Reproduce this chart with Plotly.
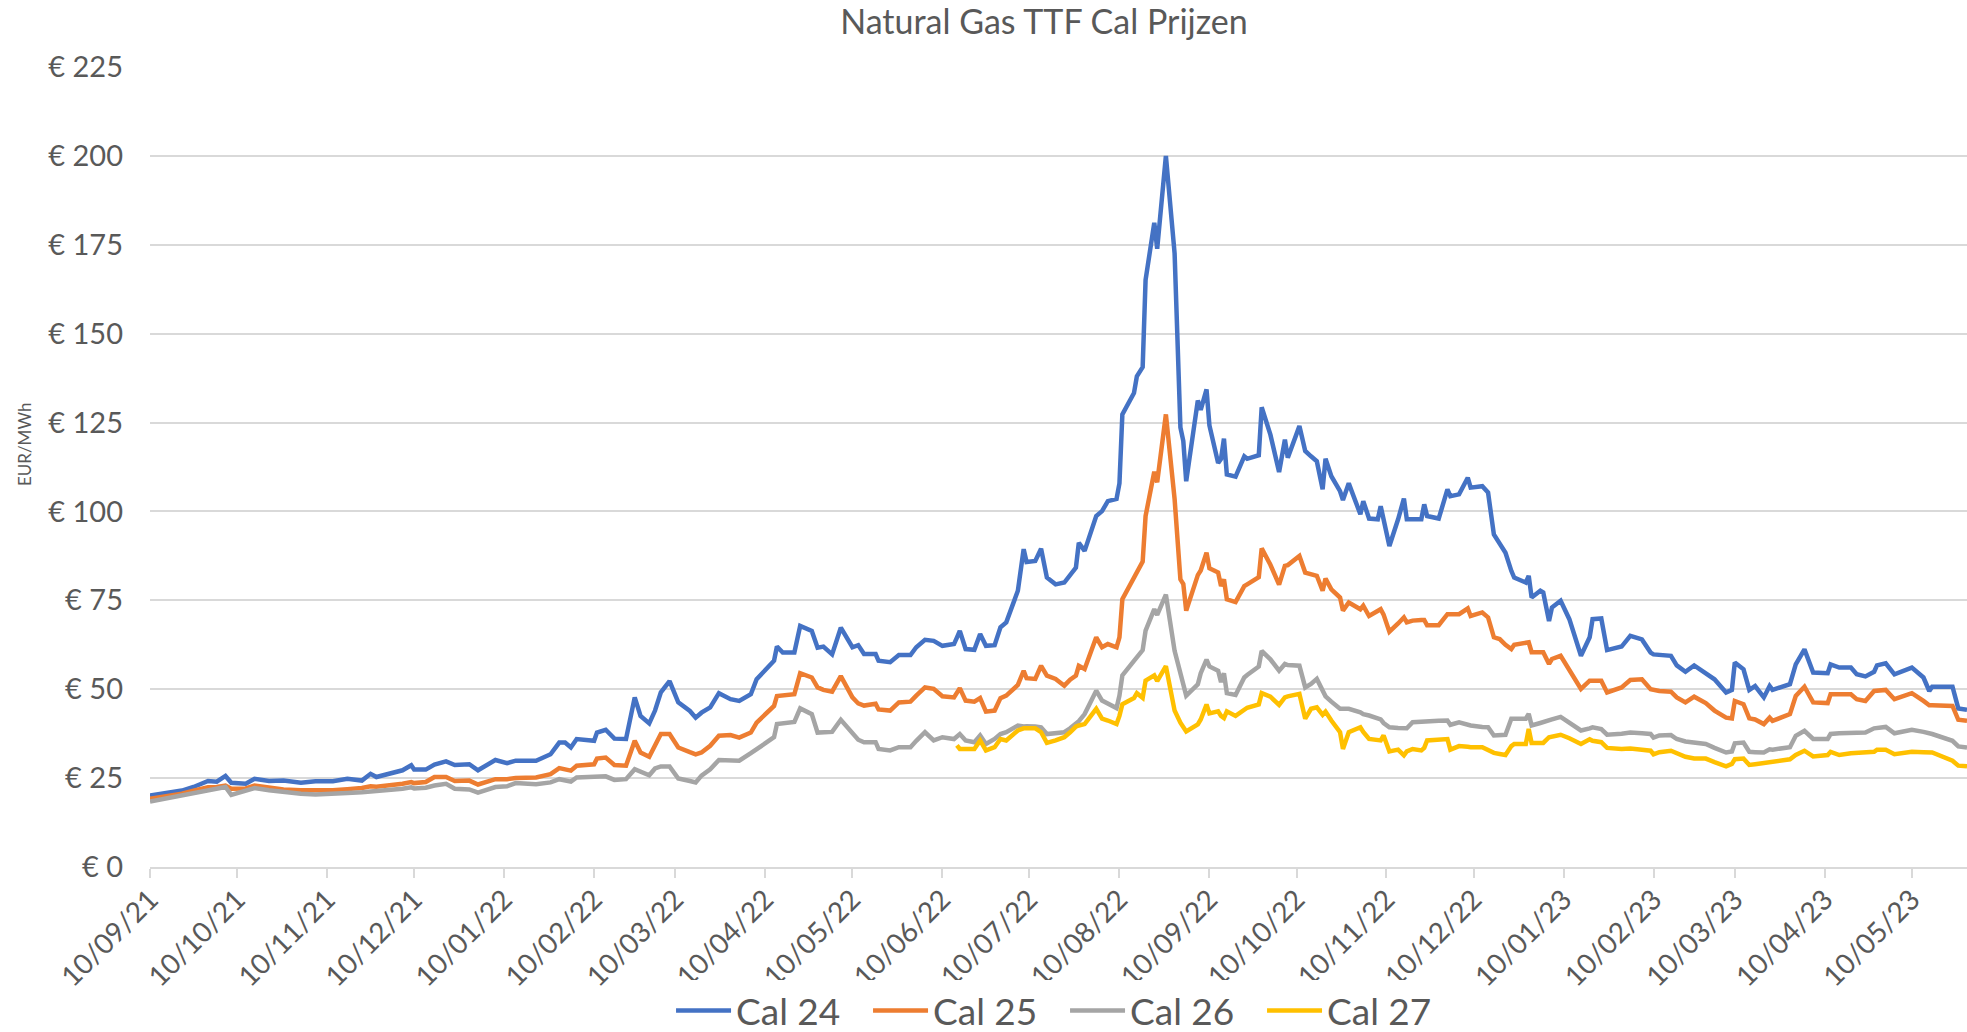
import plotly.graph_objects as go

dates = [
    "2021-09-10", "2021-09-16", "2021-09-21", "2021-09-25", "2021-09-30",
    "2021-10-03", "2021-10-06", "2021-10-08", "2021-10-13", "2021-10-16", "2021-10-21", "2021-10-26",
    "2021-11-01", "2021-11-06", "2021-11-12", "2021-11-17", "2021-11-22", "2021-11-25", "2021-11-27",
    "2021-12-06", "2021-12-09", "2021-12-10", "2021-12-14", "2021-12-17", "2021-12-21", "2021-12-24", "2021-12-29",
    "2022-01-01", "2022-01-07", "2022-01-11", "2022-01-14", "2022-01-21", "2022-01-26", "2022-01-29", "2022-01-31",
    "2022-02-02", "2022-02-04", "2022-02-10", "2022-02-11", "2022-02-14", "2022-02-17", "2022-02-21", "2022-02-24", "2022-02-26",
    "2022-03-01", "2022-03-03", "2022-03-05", "2022-03-08", "2022-03-11", "2022-03-15", "2022-03-17", "2022-03-19", "2022-03-22", "2022-03-25", "2022-03-29",
    "2022-04-01", "2022-04-05", "2022-04-07", "2022-04-13", "2022-04-14", "2022-04-16", "2022-04-20", "2022-04-22", "2022-04-26", "2022-04-28", "2022-04-30",
    "2022-05-03", "2022-05-06", "2022-05-10", "2022-05-12", "2022-05-14", "2022-05-18", "2022-05-19", "2022-05-23", "2022-05-26", "2022-05-30",
    "2022-06-01", "2022-06-04", "2022-06-07", "2022-06-10", "2022-06-14", "2022-06-15", "2022-06-16", "2022-06-18", "2022-06-21", "2022-06-23", "2022-06-25", "2022-06-28", "2022-06-30",
    "2022-07-02", "2022-07-06", "2022-07-08", "2022-07-09", "2022-07-12", "2022-07-14", "2022-07-16", "2022-07-19", "2022-07-22", "2022-07-24", "2022-07-26", "2022-07-27", "2022-07-29",
    "2022-08-02", "2022-08-04", "2022-08-06", "2022-08-09", "2022-08-10", "2022-08-11", "2022-08-15", "2022-08-16", "2022-08-18", "2022-08-19", "2022-08-22", "2022-08-23", "2022-08-26", "2022-08-29", "2022-08-31",
    "2022-09-01", "2022-09-02", "2022-09-06", "2022-09-07", "2022-09-09", "2022-09-10", "2022-09-13", "2022-09-14", "2022-09-15", "2022-09-16", "2022-09-19", "2022-09-22", "2022-09-23", "2022-09-27", "2022-09-28",
    "2022-10-01", "2022-10-04", "2022-10-06", "2022-10-07", "2022-10-11", "2022-10-13", "2022-10-15", "2022-10-17", "2022-10-19", "2022-10-20", "2022-10-22", "2022-10-25", "2022-10-26", "2022-10-28",
    "2022-11-01", "2022-11-02", "2022-11-04", "2022-11-07", "2022-11-08", "2022-11-09", "2022-11-11", "2022-11-14", "2022-11-16", "2022-11-17", "2022-11-19", "2022-11-22", "2022-11-23", "2022-11-24", "2022-11-28",
    "2022-12-01", "2022-12-02", "2022-12-05", "2022-12-08", "2022-12-09", "2022-12-13", "2022-12-15", "2022-12-17", "2022-12-19", "2022-12-21", "2022-12-23", "2022-12-24", "2022-12-28", "2022-12-29", "2022-12-30",
    "2023-01-02", "2023-01-03", "2023-01-05", "2023-01-06", "2023-01-09", "2023-01-12", "2023-01-14", "2023-01-16", "2023-01-19", "2023-01-20", "2023-01-23", "2023-01-25", "2023-01-30",
    "2023-02-02", "2023-02-06", "2023-02-09", "2023-02-10", "2023-02-12", "2023-02-16", "2023-02-18", "2023-02-21", "2023-02-24", "2023-02-28",
    "2023-03-03", "2023-03-07", "2023-03-09", "2023-03-10", "2023-03-13", "2023-03-15", "2023-03-17", "2023-03-20", "2023-03-22", "2023-03-23", "2023-03-29", "2023-03-31",
    "2023-04-03", "2023-04-06", "2023-04-11", "2023-04-12", "2023-04-15", "2023-04-19", "2023-04-21", "2023-04-24", "2023-04-27", "2023-04-28",
    "2023-05-01", "2023-05-04", "2023-05-10", "2023-05-14", "2023-05-16", "2023-05-17", "2023-05-24", "2023-05-26", "2023-05-29",
]

cal24 = [
    20.1, 20.8, 21.5, 22.5, 24.2,
    24.0, 25.6, 23.7, 23.4, 24.8, 24.2, 24.3,
    23.7, 24.1, 24.1, 24.8, 24.3, 26.2, 25.3,
    27.2, 28.6, 27.4, 27.4, 28.8, 29.7, 28.7, 28.9,
    27.2, 30.1, 29.2, 29.9, 29.9, 31.7, 35.0, 35.0,
    33.6, 36.0, 35.5, 37.8, 38.6, 36.1, 36.0, 47.7, 42.5,
    40.4, 44.0, 49.1, 52.3, 46.3, 43.9, 42.0, 43.4, 44.9, 48.9, 47.2,
    46.7, 48.6, 52.8, 58.0, 62.0, 60.3, 60.3, 67.8, 66.4, 61.7, 62.0,
    59.8, 67.3, 61.8, 62.4, 59.9, 59.9, 58.0, 57.6, 59.6, 59.6,
    61.8, 63.9, 63.6, 62.2, 62.7, 64.5, 66.4, 61.3, 61.1, 65.5, 62.2, 62.4, 67.4,
    68.8, 77.7, 89.4, 85.8, 86.1, 89.5, 81.4, 79.5, 80.0, 82.3, 84.2, 91.2, 88.9,
    98.7, 100.1, 102.9, 103.5, 107.9, 127.3, 133.3, 138.0, 140.6, 165.1, 181.2, 173.9, 200.0, 172.6, 123.6,
    119.8, 108.5, 131.2, 128.6, 134.3, 124.2, 113.6, 114.8, 120.5, 110.4, 109.8, 115.5, 114.8, 115.8, 129.3,
    121.6, 111.1, 120.2, 115.1, 124.0, 117.0, 115.5, 114.1, 106.2, 114.8, 109.9, 105.7, 103.2, 107.9,
    99.2, 102.9, 98.0, 97.8, 101.5, 97.8, 90.3, 97.8, 103.6, 97.8, 97.8, 97.8, 102.0, 98.7, 98.0,
    106.2, 104.3, 104.8, 109.5, 106.7, 107.1, 105.3, 93.5, 90.8, 88.4, 83.3, 81.4, 80.0, 81.9, 75.8,
    77.7, 77.2, 69.2, 73.0, 74.9, 69.7, 64.6, 59.4, 64.6, 69.7, 69.9, 61.0, 62.0,
    65.0, 64.0, 60.3, 59.8, 59.6, 59.4, 56.7, 54.9, 56.7, 54.5,
    52.8, 49.1, 49.8, 57.5, 55.6, 49.8, 50.9, 47.7, 50.9, 49.8, 51.4, 57.0,
    61.2, 54.7, 54.5, 57.0, 56.1, 56.1, 54.2, 53.6, 54.9, 56.7,
    57.3, 54.2, 56.1, 53.3, 49.5, 50.7, 50.7, 44.6, 44.2,
]

cal25 = [
    19.2, 19.9, 20.6, 21.5, 22.4,
    22.5, 22.9, 22.0, 22.1, 22.9, 22.4, 21.8,
    21.6, 21.5, 21.6, 21.9, 22.2, 22.7, 22.6,
    23.4, 23.9, 23.6, 23.9, 25.3, 25.3, 24.2, 24.3,
    23.2, 24.7, 24.7, 25.0, 25.2, 26.1, 27.8, 27.5,
    27.1, 28.5, 28.9, 30.5, 30.8, 28.7, 28.5, 35.5, 32.2,
    31.0, 34.0, 37.4, 37.4, 33.6, 32.3, 31.7, 32.2, 34.1, 36.9, 37.1,
    36.4, 37.8, 40.6, 45.3, 48.1, 48.3, 48.6, 54.5, 53.3, 50.5, 49.8,
    49.3, 53.7, 47.7, 46.0, 45.4, 45.9, 44.3, 44.0, 46.3, 46.5,
    48.2, 50.5, 50.1, 48.0, 47.7, 49.0, 50.3, 46.8, 46.5, 47.5, 43.7, 44.0, 47.5,
    48.2, 51.2, 55.2, 53.1, 52.9, 56.6, 53.8, 52.9, 51.0, 52.7, 53.8, 56.6, 55.7,
    64.6, 61.8, 62.7, 61.8, 64.6, 75.3, 81.0, 82.8, 85.9, 98.7, 111.2, 108.2, 127.3, 103.5, 80.9,
    79.6, 72.1, 82.1, 83.4, 88.4, 84.0, 82.8, 79.0, 80.9, 75.3, 74.5, 79.0, 79.5, 81.5, 89.6,
    85.0, 79.4, 84.7, 84.9, 87.5, 82.8, 82.3, 81.9, 77.7, 81.1, 78.1, 75.8, 72.1, 74.4,
    72.5, 73.5, 70.6, 72.0, 72.5, 71.0, 66.2, 68.5, 70.2, 68.8, 69.3, 69.5, 69.5, 68.0, 68.0,
    71.1, 71.1, 71.1, 72.7, 70.6, 71.6, 70.2, 64.6, 64.1, 62.5, 61.3, 62.5, 63.2, 63.2, 60.4,
    60.4, 60.4, 57.1, 58.5, 59.4, 55.2, 52.5, 50.1, 52.4, 52.4, 52.4, 49.1, 50.5,
    52.6, 52.8, 50.0, 49.8, 49.5, 49.3, 47.7, 46.3, 47.9, 46.1,
    44.0, 42.0, 41.8, 46.7, 45.8, 41.8, 41.5, 40.2, 42.0, 41.1, 43.0, 48.1,
    50.7, 46.3, 46.1, 48.6, 48.6, 48.6, 47.2, 46.7, 49.5, 49.6,
    49.8, 47.2, 48.9, 46.7, 45.5, 45.5, 45.3, 41.4, 41.1,
]

cal26 = [
    18.4, 19.3, 20.1, 20.9, 21.7,
    22.0, 22.5, 20.3, 21.4, 22.2, 21.6, 21.1,
    20.6, 20.4, 20.5, 20.8, 21.0, 21.3, 21.4,
    22.0, 22.4, 22.1, 22.3, 22.9, 23.4, 22.0, 21.8,
    20.9, 22.5, 22.7, 23.6, 23.3, 23.8, 24.7, 24.5,
    24.0, 25.2, 25.3, 25.4, 25.5, 24.5, 24.7, 27.5, 26.8,
    25.8, 27.7, 28.3, 28.3, 24.9, 24.2, 23.8, 25.7, 27.5, 30.1, 29.9,
    29.9, 32.0, 33.1, 36.5, 40.2, 40.5, 40.8, 44.6, 43.0, 37.8, 38.0,
    38.0, 41.4, 37.9, 35.8, 35.1, 35.1, 33.2, 32.8, 33.7, 33.7,
    35.5, 37.9, 35.6, 36.5, 36.0, 36.8, 37.4, 35.6, 35.1, 37.0, 34.6, 36.0, 37.4,
    37.9, 39.8, 39.5, 39.6, 39.5, 39.3, 37.4, 37.6, 37.9, 39.0, 40.5, 41.0, 43.0,
    49.6, 46.8, 46.0, 44.7, 48.2, 53.9, 58.0, 58.9, 61.0, 66.5, 72.5, 70.9, 76.6, 60.8, 54.5,
    52.0, 48.2, 51.4, 54.5, 58.3, 56.4, 55.2, 52.0, 54.5, 48.9, 48.4, 53.3, 54.0, 56.4, 60.8,
    58.4, 55.2, 57.1, 56.8, 56.6, 50.5, 51.5, 52.9, 50.0, 48.0, 46.5, 44.5, 44.5, 44.5,
    43.5, 43.0, 42.6, 41.8, 41.5, 40.5, 39.3, 39.1, 39.0, 39.0, 40.7, 40.9, 41.0, 41.0, 41.1,
    41.2, 40.0, 40.7, 40.0, 39.8, 39.4, 39.3, 37.0, 37.0, 37.2, 41.7, 41.7, 41.7, 43.1, 39.8,
    40.5, 40.7, 41.0, 41.5, 42.2, 40.7, 39.5, 38.4, 39.0, 39.3, 38.8, 37.2, 37.5,
    37.8, 37.6, 37.4, 36.4, 37.0, 37.1, 36.0, 35.3, 35.0, 34.6,
    33.5, 32.2, 32.5, 34.8, 35.0, 32.4, 32.3, 32.2, 33.1, 33.0, 33.7, 36.9,
    38.3, 36.0, 36.0, 37.4, 37.6, 37.8, 37.8, 37.8, 39.0, 39.1,
    39.4, 37.6, 38.6, 38.0, 37.4, 37.4, 35.5, 33.9, 33.6,
]

cal27 = [None] * 81 + [
    34.2, 33.2, 33.2, 33.2, 35.6, 32.8, 33.7, 36.0,
    35.6, 38.4, 39.0, 39.0, 39.0, 37.9, 34.9, 35.6, 36.5, 37.9, 39.5, 39.8, 40.2,
    44.5, 41.7, 41.2, 40.2, 42.5, 45.8, 47.5, 48.9, 47.6, 52.4, 53.9, 52.3, 56.5, 44.0, 40.6,
    39.5, 38.1, 40.1, 41.5, 45.7, 43.2, 43.8, 42.5, 41.9, 43.8, 42.5, 44.5, 44.8, 45.7, 48.9,
    47.9, 45.6, 47.7, 48.0, 48.7, 41.7, 44.5, 44.9, 42.8, 43.7, 41.2, 37.9, 33.2, 37.9,
    39.3, 38.0, 36.0, 35.8, 35.6, 37.0, 32.5, 33.0, 31.4, 32.5, 33.2, 32.8, 33.5, 35.6, 35.8,
    36.0, 33.0, 34.0, 33.8, 33.7, 33.7, 33.0, 32.1, 31.8, 31.5, 34.0, 34.6, 34.6, 38.8, 34.9,
    34.9, 34.9, 36.5, 36.6, 37.2, 36.2, 35.5, 34.6, 35.9, 35.5, 35.1, 33.5, 33.2,
    33.3, 33.0, 32.7, 31.7, 32.3, 32.7, 32.0, 31.0, 30.5, 30.5,
    29.5, 28.3, 29.0, 30.3, 30.5, 28.7, 28.9, 29.2, 29.3, 29.4, 30.3, 31.5,
    32.7, 31.1, 31.5, 32.4, 31.5, 32.0, 32.1, 32.2, 32.4, 33.0,
    33.0, 31.7, 32.4, 32.3, 32.2, 32.2, 29.9, 28.5, 28.3,
]

series_names = ["Cal 24", "Cal 25", "Cal 26", "Cal 27"]
series_values = [cal24, cal25, cal26, cal27]
colors = ["#4472C4", "#ED7D31", "#A5A5A5", "#FFC000"]

y_ticks = [0, 25, 50, 75, 100, 125, 150, 175, 200, 225]
y_tick_labels = ["€ " + str(v) for v in y_ticks]

FONT = "Lato"
TXT = "#595959"

fig = go.Figure()
for name, vals, col in zip(series_names, series_values, colors):
    fig.add_trace(go.Scatter(
        x=dates, y=vals, name=name, mode="lines",
        line=dict(color=col, width=4.5), connectgaps=False,
    ))

fig.update_layout(
    width=1967, height=1032,
    paper_bgcolor="white", plot_bgcolor="white",
    margin=dict(l=150, r=0, t=67, b=165, autoexpand=False),
    title=dict(text="Natural Gas TTF Cal Prijzen", x=0.492, xref="paper", xanchor="center",
               y=0.979, yanchor="middle", font=dict(family=FONT, size=34, color=TXT)),
    font=dict(family=FONT, color=TXT),
    showlegend=True,
    legend=dict(orientation="h", x=0.5036, xanchor="center", y=-0.18, yanchor="middle",
                font=dict(family=FONT, size=37, color=TXT), itemwidth=55,
                entrywidth=127, entrywidthmode="pixels", tracegroupgap=0),
    annotations=[dict(text="EUR/MWh", textangle=-90, xref="paper", yref="paper",
                      x=-0.0691, y=0.528, xanchor="center", yanchor="middle",
                      showarrow=False, font=dict(family=FONT, size=17, color=TXT))],
)

fig.update_xaxes(
    type="date", automargin=False,
    range=["2021-09-10", "2023-05-29"],
    tick0="2021-09-10", dtick="M1", tickformat="%d/%m/%y",
    tickangle=-45, tickfont=dict(family=FONT, size=28, color=TXT),
    showgrid=False, showline=True, linecolor="#D9D9D9", linewidth=2,
    ticks="outside", ticklen=9, tickcolor="#D9D9D9", tickwidth=2,
    ticklabelstandoff=-6,
)

fig.update_yaxes(
    automargin=False,
    range=[0, 225], tickvals=y_ticks, ticktext=y_tick_labels,
    tickfont=dict(family=FONT, size=29, color=TXT),
    showgrid=True, gridcolor="#D9D9D9", gridwidth=2,
    showline=False, zeroline=False, ticklabelstandoff=26,
)

fig.write_html(
    "out.html",
    config={"displayModeBar": False},
    post_script="document.body.style.margin='0';document.body.style.overflow='hidden';",
)
